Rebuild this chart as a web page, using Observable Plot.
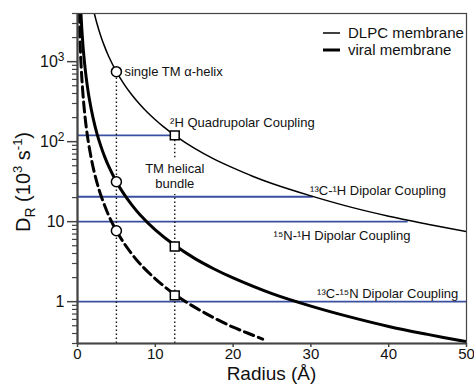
<!DOCTYPE html>
<html>
<head>
<meta charset="utf-8">
<script src="https://cdn.jsdelivr.net/npm/d3@7"></script>
<script src="https://cdn.jsdelivr.net/npm/@observablehq/plot@0.6"></script>
<style>
  body { margin: 0; background: white; }
</style>
</head>
<body>
<div id="chart"></div>
<script>
// ---- data ----
const dlpcR = [2.15, 2.5, 3, 3.5, 4, 5, 6, 7, 8, 9, 10, 11, 12.5, 15, 17.5, 20, 22.5, 25, 30, 35, 40, 45, 50];
const dlpcD = [4060, 3000, 2080, 1530, 1170, 750, 520, 383, 293, 231, 188, 155, 120, 83, 61, 47, 37, 30, 21, 15.3, 11.7, 9.3, 7.5];

const viralR = [0.44, 0.5, 0.6, 0.7, 0.8, 1, 1.25, 1.5, 2, 2.5, 3, 3.5, 4, 5, 6, 7, 8, 10, 12.5, 15, 17.5, 20, 25, 30, 35, 40, 45, 50];
const viralD = [4080, 3160, 2190, 1610, 1230, 790, 506, 351, 198, 126, 88, 64.5, 49.4, 31.6, 21.9, 16.1, 12.3, 7.9, 5.06, 3.5, 2.58, 1.98, 1.26, 0.88, 0.645, 0.49, 0.39, 0.316];

const dashR = [0.215, 0.25, 0.3, 0.4, 0.5, 0.6, 0.8, 1, 1.25, 1.5, 2, 2.5, 3, 4, 5, 6, 7, 8, 10, 12.5, 15, 17.5, 20, 22, 23.8];
const dashD = [4160, 3080, 2140, 1200, 770, 535, 301, 192, 123, 85.6, 48.1, 30.8, 21.4, 12.0, 7.7, 5.35, 3.93, 3.0, 1.93, 1.23, 0.86, 0.63, 0.48, 0.40, 0.34];

// markers: single TM helix (r = 5) and TM helical bundle (r = 12.5)
const helixR = 5;
const helixD = [750, 31.6, 7.7];
const bundleR = 12.5;
const bundleD = [120, 4.9, 1.2];

// NMR coupling levels and where each line ends
const couplingNames = ["²H Quadrupolar Coupling", "¹³C-¹H Dipolar Coupling", "¹⁵N-¹H Dipolar Coupling", "¹³C-¹⁵N Dipolar Coupling"];
const couplingD = [120, 20.5, 10, 1];
const couplingEnd = [12.5, 30.3, 42.5, 50];
const couplingLabelX = [11.9, 29.9, 25.2, 30.8];
const couplingLabelD = [170, 24.4, 6.7, 1.26];

const xTicks = [0, 10, 20, 30, 40, 50];
const yMajor = [1, 10, 100, 1000];
const yMajorLabels = ["1", "10", "10²", "10³"];
const yMinor = [0.3, 0.4, 0.5, 0.6, 0.7, 0.8, 0.9, 2, 3, 4, 5, 6, 7, 8, 9, 20, 30, 40, 50, 60, 70, 80, 90, 200, 300, 400, 500, 600, 700, 800, 900, 2000, 3000, 4000];

const xDomain = [0, 50];
const yDomain = [0.3, 4000];

// ---- tables ----
const toRows = (xs, ys) => xs.map((x, i) => ({x, y: ys[i]}));
const dlpc = toRows(dlpcR, dlpcD);
const viral = toRows(viralR, viralD);
const dash = toRows(dashR, dashD);
const couplings = couplingNames.map((name, i) => ({name, y: couplingD[i], x2: couplingEnd[i], lx: couplingLabelX[i], ly: couplingLabelD[i]}));
const helixDots = helixD.map(y => ({x: helixR, y}));
const bundleDots = bundleD.map(y => ({x: bundleR, y}));

const blue = "#3b4fa1";
const axisColor = "#444";
const font = "'Liberation Sans', Arial, Helvetica, sans-serif";

const W = 474, H = 385, mL = 77, mR = 8, mT = 13, mB = 42;

const plot = Plot.plot({
  width: W, height: H,
  marginLeft: mL, marginRight: mR, marginTop: mT, marginBottom: mB,
  style: {fontFamily: font, background: "white", color: "#111"},
  x: {domain: xDomain},
  y: {type: "log", domain: yDomain},
  marks: [
    Plot.ruleY(couplings, {y: "y", x1: 0, x2: "x2", stroke: blue, strokeWidth: 1.8}),
    Plot.ruleX([helixR], {x: d => d, y1: yDomain[0], y2: helixD[0], stroke: "#111", strokeWidth: 1.4, strokeDasharray: "1.5,2.5"}),
    Plot.ruleX([[yDomain[0], 21.8], [63, bundleD[0]]], {x: () => bundleR, y1: d => d[0], y2: d => d[1], stroke: "#111", strokeWidth: 1.4, strokeDasharray: "1.5,2.5"}),
    Plot.line(dlpc, {x: "x", y: "y", curve: "catmull-rom", stroke: "#000", strokeWidth: 1.5, clip: true}),
    Plot.line(viral, {x: "x", y: "y", curve: "catmull-rom", stroke: "#000", strokeWidth: 3, clip: true}),
    Plot.line(dash, {x: "x", y: "y", curve: "catmull-rom", stroke: "#000", strokeWidth: 3, strokeDasharray: "10,5", clip: true}),
    Plot.dot(helixDots, {x: "x", y: "y", r: 5, fill: "white", stroke: "#000", strokeWidth: 1.5}),
    Plot.dot(bundleDots, {x: "x", y: "y", symbol: "square", r: 5, fill: "white", stroke: "#000", strokeWidth: 1.5}),
    Plot.text(["single TM α-helix"], {x: helixR, y: helixD[0], text: d => d, dx: 8, textAnchor: "start", fontSize: 13, fill: "#111"}),
    Plot.text(["TM helical\nbundle"], {x: bundleR, y: 37.6, text: d => d, textAnchor: "middle", fontSize: 13, lineHeight: 1.2, fill: "#111"}),
    Plot.text(couplings, {x: "lx", y: "ly", text: "name", textAnchor: "start", fontSize: 13, fill: "#111"}),
    Plot.frame({stroke: axisColor, strokeWidth: 1.2}),
    Plot.ruleX([xDomain[0]], {stroke: axisColor, strokeWidth: 2.2}),
    Plot.ruleY([yDomain[0]], {stroke: axisColor, strokeWidth: 2}),
    Plot.axisX({ticks: xTicks, tickSize: 4, tickPadding: 1, fontSize: 15, label: null, stroke: axisColor, strokeWidth: 1.5}),
    Plot.axisY({ticks: yMajor, tickFormat: d => yMajorLabels[yMajor.indexOf(d)], tickSize: 10, tickPadding: 3, fontSize: 16, label: null, stroke: axisColor, strokeWidth: 1.5}),
    Plot.axisY({ticks: yMinor, tickFormat: () => "", tickSize: 5, label: null, stroke: axisColor, strokeWidth: 1.2})
  ]
});

document.getElementById("chart").appendChild(plot);

// ---- typographic superscripts on the y tick labels ----
const svg = d3.select(plot);
const supMap = {"²": "2", "³": "3"};
svg.selectAll("text").each(function() {
  const t = d3.select(this);
  const s = this.textContent;
  const m = /^10([²³])$/.exec(s);
  if (m && this.childElementCount === 0) {
    t.text("10");
    t.append("tspan").attr("font-size", 12).attr("dy", "-0.45em").text(supMap[m[1]]);
  }
});

// ---- axis titles & legend ----
const plotCx = mL + (W - mL - mR) / 2;
const plotCy = mT + (H - mT - mB) / 2;

svg.append("text")
  .attr("x", plotCx).attr("y", H - 5)
  .attr("text-anchor", "middle")
  .attr("font-family", font).attr("font-size", 19).attr("fill", "#111")
  .text("Radius (Å)");

const yl = svg.append("text")
  .attr("transform", `translate(30,${plotCy + 4}) rotate(-90)`)
  .attr("text-anchor", "middle")
  .attr("font-family", font).attr("font-size", 20).attr("fill", "#111");
yl.append("tspan").text("D");
yl.append("tspan").attr("font-size", 14).attr("dy", 5).text("R");
yl.append("tspan").attr("dy", -5).text(" (10");
yl.append("tspan").attr("font-size", 13).attr("dy", -8).text("3");
yl.append("tspan").attr("dy", 8).text(" s");
yl.append("tspan").attr("font-size", 13).attr("dy", -8).text("-1");
yl.append("tspan").attr("dy", 8).text(")");

const legendItems = [["DLPC membrane", 1.5], ["viral membrane", 3]];
legendItems.forEach(([label, sw], i) => {
  const y = 33 + i * 17;
  svg.append("line").attr("x1", 323).attr("x2", 340).attr("y1", y).attr("y2", y)
    .attr("stroke", "#000").attr("stroke-width", sw);
  svg.append("text").attr("x", 348).attr("y", y).attr("dy", "0.35em")
    .attr("text-anchor", "start")
    .attr("font-family", font).attr("font-size", 15).attr("fill", "#111")
    .text(label);
});
</script>
</body>
</html>
